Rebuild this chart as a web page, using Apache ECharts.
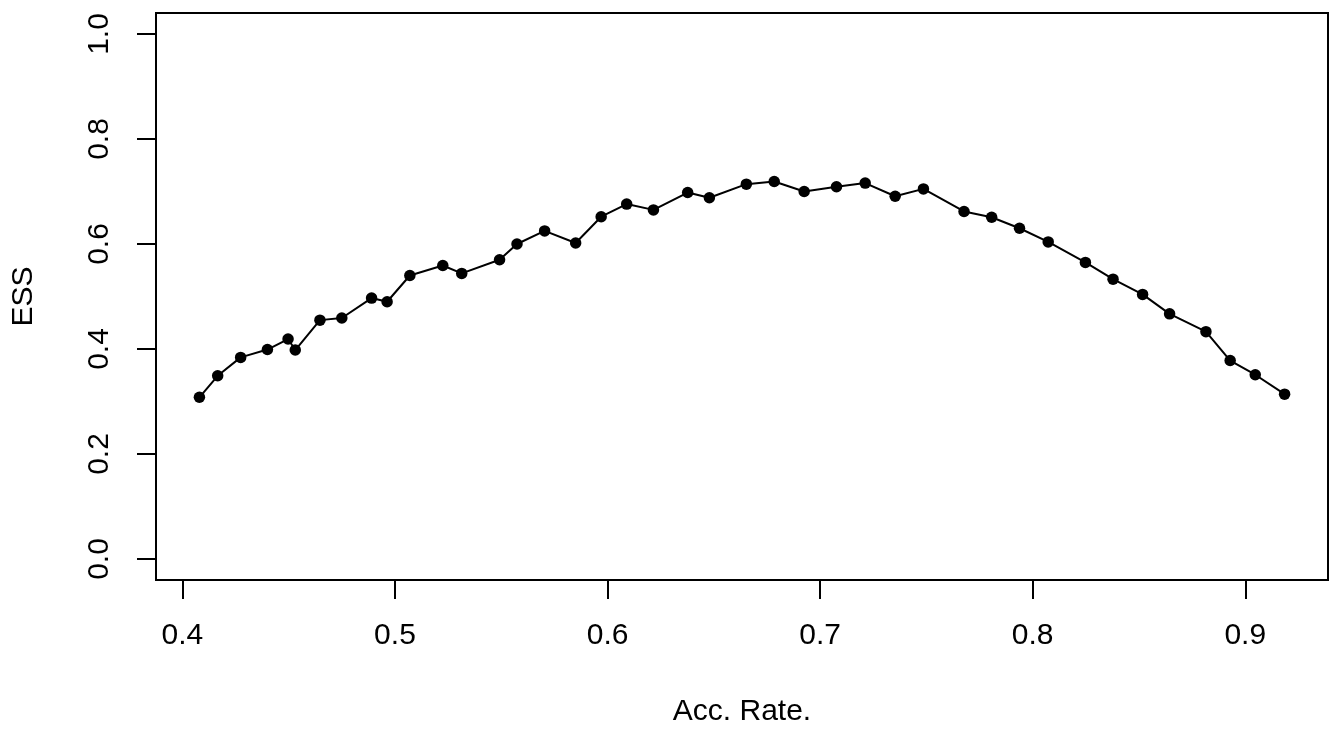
<!DOCTYPE html>
<html>
<head>
<meta charset="utf-8">
<title>ESS vs acceptance rate</title>
<script src="https://cdn.jsdelivr.net/npm/echarts@6/dist/echarts.min.js"></script>
<style>
  html, body { margin: 0; padding: 0; background: #fff; }
  #chart { width: 1330px; height: 729px; }
</style>
</head>
<body>
<div id="chart"></div>
<script>
// Acceptance rate of each sampler run and its effective sample size
const accRate = [
  0.408, 0.4166, 0.4274, 0.440, 0.4497, 0.4531, 0.4647, 0.475, 0.489, 0.4963,
  0.507, 0.5225, 0.5314, 0.5492, 0.5574, 0.5704, 0.585, 0.597, 0.609, 0.6216,
  0.6377, 0.6479, 0.6653, 0.6784, 0.6925, 0.7077, 0.7212, 0.7353, 0.7486, 0.7677,
  0.7807, 0.7938, 0.8073, 0.8248, 0.8378, 0.8517, 0.8644, 0.8815, 0.8929, 0.9047,
  0.9185
];
const ess = [
  0.308, 0.349, 0.384, 0.399, 0.419, 0.398, 0.455, 0.459, 0.497, 0.490,
  0.540, 0.559, 0.544, 0.570, 0.600, 0.625, 0.602, 0.652, 0.676, 0.665,
  0.698, 0.688, 0.714, 0.719, 0.700, 0.709, 0.716, 0.691, 0.705, 0.662,
  0.651, 0.630, 0.604, 0.565, 0.533, 0.504, 0.467, 0.433, 0.378, 0.351,
  0.314
];
const xTicks = [0.4, 0.5, 0.6, 0.7, 0.8, 0.9];
const yTicks = [0.0, 0.2, 0.4, 0.6, 0.8, 1.0];

// Axis limits padded by 4% of the range on each side
const xLo = Math.min(...accRate), xHi = Math.max(...accRate);
const xPad = 0.04 * (xHi - xLo);
const yLo = 0, yHi = 1, yPad = 0.04 * (yHi - yLo);

const FONT = 'Liberation Sans, Arial, Helvetica, sans-serif';
const points = accRate.map((x, i) => [x, ess[i]]);

// Tick labels sit one text line from the box, axis titles three lines out
const LABEL_GAP = 41;
const TITLE_GAP = 117;

const chart = echarts.init(document.getElementById('chart'), null, { renderer: 'canvas' });
chart.setOption({
  backgroundColor: '#ffffff',
  animation: false,
  textStyle: { fontFamily: FONT },
  grid: {
    left: 156, right: 2, top: 13, bottom: 149,
    show: true, borderColor: '#000', borderWidth: 2,
    containLabel: false, outerBoundsMode: 'none'
  },
  xAxis: {
    type: 'value',
    min: xLo - xPad, max: xHi + xPad,
    name: 'Acc. Rate.',
    nameLocation: 'middle',
    nameGap: TITLE_GAP,
    nameTextStyle: { fontSize: 30, color: '#000', fontFamily: FONT },
    axisLine: { show: false, onZero: false },
    axisTick: { show: true, inside: false, length: 19, customValues: xTicks,
                lineStyle: { color: '#000', width: 2 } },
    axisLabel: { show: true, customValues: xTicks, margin: LABEL_GAP, fontSize: 30,
                 color: '#000', fontFamily: FONT,
                 formatter: v => v.toFixed(1) },
    splitLine: { show: false }
  },
  yAxis: {
    type: 'value',
    min: yLo - yPad, max: yHi + yPad,
    name: 'ESS',
    nameLocation: 'middle',
    nameGap: TITLE_GAP,
    nameTextStyle: { fontSize: 30, color: '#000', fontFamily: FONT },
    axisLine: { show: false, onZero: false },
    axisTick: { show: true, inside: false, length: 19, customValues: yTicks,
                lineStyle: { color: '#000', width: 2 } },
    axisLabel: { show: true, customValues: yTicks, rotate: 90, margin: LABEL_GAP,
                 fontSize: 30, color: '#000', fontFamily: FONT,
                 formatter: v => v.toFixed(1) },
    splitLine: { show: false }
  },
  series: [{
    type: 'line',
    data: points,
    symbol: 'circle',
    symbolSize: 11.5,
    showSymbol: true,
    itemStyle: { color: '#000' },
    lineStyle: { color: '#000', width: 2 },
    z: 3
  }]
});
</script>
</body>
</html>
